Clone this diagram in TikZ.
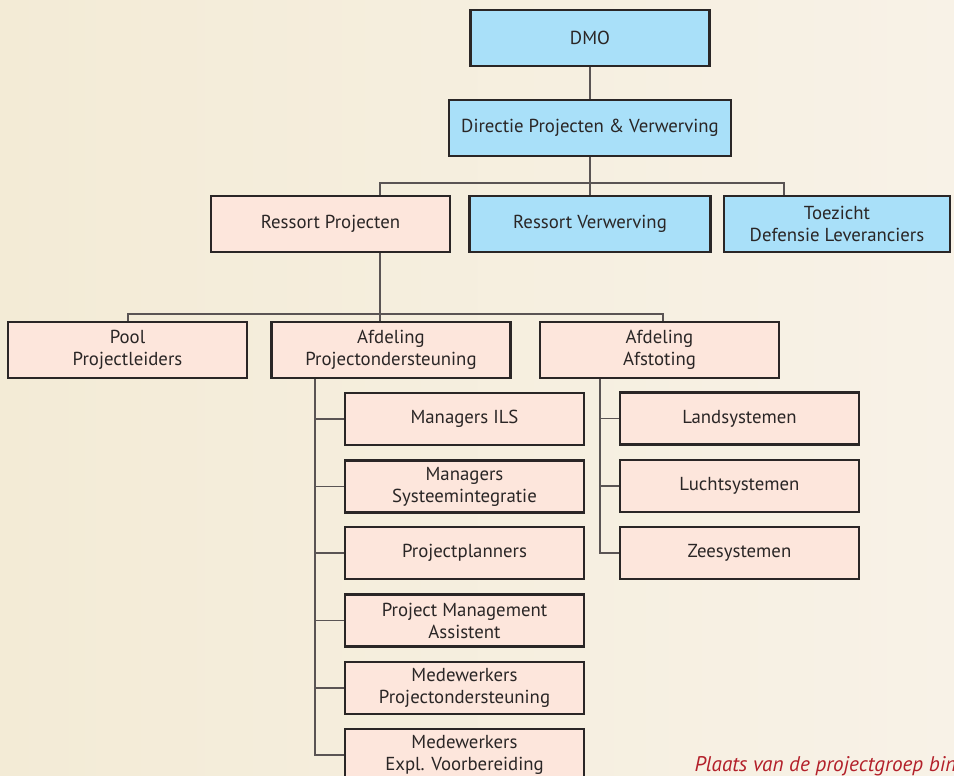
\documentclass[tikz,border=0pt]{standalone}
\usepackage{fontspec}
\setmainfont{PT Sans}
\usetikzlibrary{positioning}
\definecolor{bgcream}{HTML}{F8F2E7}
\definecolor{bgwarm}{HTML}{F3EBD6}
\definecolor{boxblue}{HTML}{A9E0F9}
\definecolor{boxpink}{HTML}{FDE6DC}
\definecolor{boxline}{HTML}{2A2626}
\definecolor{linkgray}{HTML}{5A5454}
\definecolor{capred}{HTML}{B3202A}
\tikzset{
every picture/.style={
line width=0.7pt
}}
\begin{document}
\begin{tikzpicture}[x=0.5pt, y=-0.5pt,
box/.style = {rectangle, draw=boxline, line width=1.3pt, align=center, text=boxline,
  font=\fontsize{9.4}{11}\selectfont, inner sep=1pt, minimum width=119.5pt, minimum height=28pt},
bluebox/.style = {box, fill=boxblue},
pinkbox/.style = {box, fill=boxpink},
subbox/.style = {pinkbox, minimum height=26pt},
link/.style = {draw=linkgray, line width=0.7pt}]

\useasboundingbox (0,0) rectangle (954,776);
\clip (0,0) rectangle (954,776);
\shade[left color=bgwarm, right color=bgcream] (0,0) rectangle (954,776);

\node[bluebox] (dmo) at (590,38) {DMO};
\node[bluebox, minimum width=141pt] (dir) at (590,128) {Directie Projecten \& Verwerving};

\node[pinkbox] (rp) at (330.5,224) {Ressort Projecten};
\node[bluebox, minimum width=120.5pt] (rv) at (590,224) {Ressort Verwerving};
\node[bluebox, minimum width=113pt] (tz) at (837,224) {Toezicht\\Defensie Leveranciers};

\node[pinkbox] (pool) at (127.5,350) {Pool\\Projectleiders};
\node[pinkbox] (apo) at (391,350) {Afdeling\\Projectondersteuning};
\node[pinkbox] (afs) at (659.5,350) {Afdeling\\Afstoting};

\node[subbox] (ils) at (464.5,419) {Managers ILS};
\node[subbox] (sys) at (464.5,486.5) {Managers\\Systeemintegratie};
\node[subbox] (pln) at (464.5,553) {Projectplanners};
\node[subbox] (pma) at (464.5,620.5) {Project Management\\Assistent};
\node[subbox] (mpo) at (464.5,688) {Medewerkers\\Projectondersteuning};
\node[subbox] (mev) at (464.5,755) {Medewerkers\\Expl. Voorbereiding};

\node[subbox] (land) at (739.5,418.5) {Landsystemen};
\node[subbox] (lucht) at (739.5,486) {Luchtsystemen};
\node[subbox] (zee) at (739.5,553) {Zeesystemen};

\coordinate (h1l) at (380,183);
\coordinate (h1r) at (784,183);
\coordinate (h2l) at (128,314);
\coordinate (h2r) at (663,314);
\coordinate (t1) at (315,0);
\coordinate (t2) at (600,0);

\draw[link] (dmo) -- (dir);
\draw[link] (dir) -- (rv);
\draw[link] (rp.north -| h1l) |- (h1r) -- (tz.north -| h1r);
\draw[link] (rp.south -| h1l) -- (apo.north -| h1l);
\draw[link] (pool.north -| h2l) |- (h2r) -- (afs.north -| h2r);
\foreach \n in {ils,sys,pln,pma,mpo,mev}
  \draw[link] (apo.south -| t1) |- (\n.west);
\foreach \n in {land,lucht,zee}
  \draw[link] (afs.south -| t2) |- (\n.west);

\node[anchor=base west, inner sep=0pt, text=capred, font=\fontsize{10.6}{12}\selectfont\itshape] (cap) at (694,771) {Plaats van de projectgroep bin};
\end{tikzpicture}
\end{document}
